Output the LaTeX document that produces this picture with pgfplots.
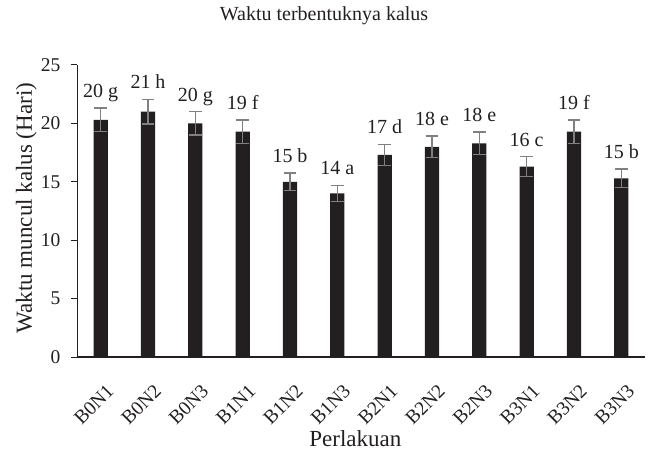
\documentclass[border=0pt]{standalone}
\usepackage{pgfplots}
\pgfplotsset{compat=1.18}
\usepackage{pgfplotstable}
\usepackage{fontspec}
\setmainfont{Liberation Serif}
\usetikzlibrary{calc}
\definecolor{barc}{RGB}{35,31,32}
\definecolor{errc}{RGB}{128,128,128}
\pgfplotstableread{
x y err lab
0 20.3 1.0 {20 g}
1 21.0 1.05 {21 h}
2 20.0 1.0 {20 g}
3 19.3 1.0 {19 f}
4 15.0 0.75 {15 b}
5 14.0 0.7 {14 a}
6 17.3 0.9 {17 d}
7 18.0 0.9 {18 e}
8 18.3 0.95 {18 e}
9 16.3 0.85 {16 c}
10 19.3 1.0 {19 f}
11 15.3 0.8 {15 b}
}\datatab
\begin{document}
\begin{tikzpicture}
\begin{axis}[
  name=ax,
  scale only axis,
  width=568bp, height=292bp,
  xmin=-0.5, xmax=11.5,
  ymin=0, ymax=25,
  ytick={0,5,...,25},
  xtick={0,...,11},
  xticklabels={B0N1,B0N2,B0N3,B1N1,B1N2,B1N3,B2N1,B2N2,B2N3,B3N1,B3N2,B3N3},
  x tick label style={xshift=5bp, yshift=-20bp, rotate=45, anchor=north east, inner sep=0pt},
  y tick label style={xshift=-7bp},
  axis x line=bottom, axis y line=left,
  axis line style={-, barc, line width=1bp},
  x axis line style={line width=1.2bp},
  tick align=outside,
  ytick style={barc, line width=1bp},
  major tick length=6bp,
  xtick style={draw=none},
  /pgf/number format/assume math mode=true,
  tick label style={font=\fontsize{19.5bp}{21bp}\selectfont, text=barc},
  xlabel={Perlakuan},
  xlabel style={at={(axis description cs:0.49,-0.308)}, anchor=base, inner sep=0pt},
  ylabel={Waktu muncul kalus (Hari)},
  ylabel style={at={(axis description cs:-0.0704,0.51)}, anchor=south, rotate=0, inner sep=0pt},
  label style={font=\fontsize{23bp}{26bp}\selectfont, text=barc},
  title={Waktu terbentuknya kalus},
  title style={at={(axis description cs:0.435,1.131)}, anchor=base, inner sep=0pt, font=\fontsize{20bp}{22bp}\selectfont, text=barc},
  clip=false,
]
\addplot[ybar, bar width=14.2bp, fill=barc, draw=none,
  error bars/.cd, y dir=both, y explicit,
  error bar style={errc, line width=1.5bp},
  error mark options={errc, line width=1.5bp, mark size=6.3bp, rotate=90}]
  table[x=x, y=y, y error=err] {\datatab};
\addplot[draw=none, mark=none,
  nodes near coords, point meta=explicit symbolic,
  nodes near coords style={anchor=base, yshift=10.5bp, inner sep=0pt, font=\fontsize{20bp}{22bp}\selectfont, text=barc}]
  table[x=x, y expr=\thisrow{y}+\thisrow{err}, meta=lab] {\datatab};
\end{axis}
\pgfresetboundingbox
\path ($(ax.south west)+(-77bp,-95bp)$) rectangle ($(ax.north east)+(3bp,65bp)$);
\end{tikzpicture}
\end{document}
